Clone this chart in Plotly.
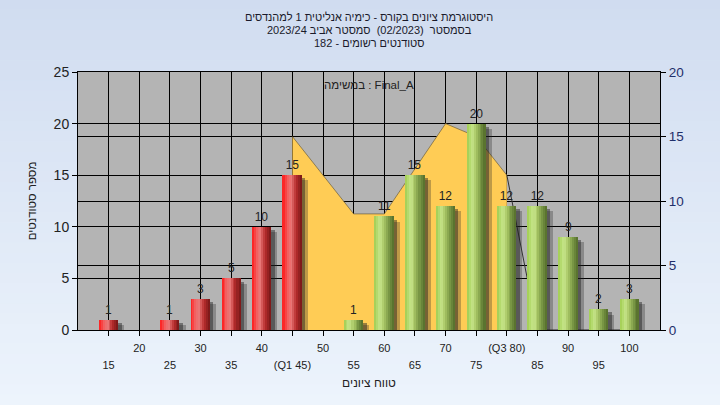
import plotly.graph_objects as go

# ---------------- data ----------------
categories = [15, 20, 25, 30, 35, 40, 45, 50, 55, 60, 65, 70, 75, 80, 85, 90, 95, 100]
tick_labels = ["15", "20", "25", "30", "35", "40", "(Q1 45)", "50", "55", "60",
               "65", "70", "75", "(Q3 80)", "85", "90", "95", "100"]
counts = [1, 0, 1, 3, 5, 10, 15, 0, 1, 11, 15, 12, 20, 12, 12, 9, 2, 3]

area_x = [45, 50, 55, 60, 65, 70, 75, 80]
area_y = [15, 12, 9, 9, 12.5, 16, 15, 12]
tail_x = [80, 85, 90, 95, 100]
tail_y = [12, 0, 0, 0, 0]

title_lines = [
    "היסטוגרמת ציונים בקורס - כימיה אנליטית 1 למהנדסים",
    "בסמסטר  (02/2023)  סמסטר אביב 2023/24",
    "סטודנטים רשומים - 182",
]
task_label = "במשימה : Final_A"
x_title = "טווח ציונים"
y_title = "מספר סטודנטים"

# ---------------- style helpers ----------------
FONT = "Liberation Sans, Arial, sans-serif"
BAR_W = 3.1
N_STRIPS = 10

red_stops = [(0.0, (255, 25, 25)), (0.28, (240, 105, 105)), (0.45, (232, 118, 118)),
             (0.7, (185, 45, 45)), (1.0, (115, 22, 22))]
green_stops = [(0.0, (160, 205, 80)), (0.3, (200, 230, 140)), (0.5, (168, 198, 100)),
               (0.75, (120, 150, 68)), (1.0, (82, 108, 42))]


def interp(stops, t):
    for (p0, c0), (p1, c1) in zip(stops[:-1], stops[1:]):
        if p0 <= t <= p1:
            f = (t - p0) / (p1 - p0) if p1 > p0 else 0
            return "rgb(%d,%d,%d)" % tuple(round(a + (b - a) * f) for a, b in zip(c0, c1))
    return "rgb(%d,%d,%d)" % stops[-1][1]


is_red = [c <= 45 for c in categories]

fig = go.Figure()

# area (right axis, primary y)
fig.add_trace(go.Scatter(
    x=area_x, y=area_y, mode="lines", fill="tozeroy",
    fillcolor="#FFCC55", line=dict(color="rgba(110,95,60,0.7)", width=1),
    yaxis="y", hoverinfo="skip", showlegend=False))
fig.add_trace(go.Scatter(
    x=tail_x, y=tail_y, mode="lines",
    line=dict(color="#333333", width=1), yaxis="y",
    hoverinfo="skip", showlegend=False))

# bar shadows
fig.add_trace(go.Bar(
    x=categories, y=counts, yaxis="y2", width=BAR_W, offset=-BAR_W / 2 + 1.0,
    base=-0.5, marker=dict(color="rgba(40,40,40,0.3)", line=dict(width=0)),
    hoverinfo="skip", showlegend=False))
fig.add_trace(go.Bar(
    x=categories, y=counts, yaxis="y2", width=BAR_W, offset=-BAR_W / 2 + 0.55,
    base=-0.3, marker=dict(color="rgba(30,30,30,0.45)", line=dict(width=0)),
    hoverinfo="skip", showlegend=False))

# gradient cylinder bars built from strips
sw = BAR_W / N_STRIPS
for i in range(N_STRIPS):
    t = (i + 0.5) / N_STRIPS
    cols = [interp(red_stops, t) if r else interp(green_stops, t) for r in is_red]
    fig.add_trace(go.Bar(
        x=categories, y=counts, yaxis="y2", width=sw * 1.05,
        offset=-BAR_W / 2 + i * sw,
        marker=dict(color=cols, line=dict(width=0)),
        hoverinfo="skip", showlegend=False))

# value labels
fig.add_trace(go.Bar(
    x=categories, y=counts, yaxis="y2", width=BAR_W,
    marker=dict(color="rgba(0,0,0,0)", line=dict(width=0)),
    text=[str(v) if v else "" for v in counts], textposition="outside",
    textfont=dict(size=12, color="#222222", family=FONT),
    cliponaxis=False, showlegend=False, name="counts"))

# invisible carrier for the second row of x tick labels
fig.add_trace(go.Scatter(x=categories, y=counts, xaxis="x2", yaxis="y2", mode="none",
                         hoverinfo="skip", showlegend=False))

# ---------------- background gradient ----------------
shapes = []
L, R, T, B = 78, 660, 72, 330
W, H = 720, 405
pw, ph = R - L, B - T
n_bands = 40
top_c, bot_c = (208, 220, 240), (237, 244, 252)
for k in range(n_bands):
    y0p = k * H / n_bands
    y1p = (k + 1) * H / n_bands
    f = (k + 0.5) / n_bands
    c = tuple(round(a + (b - a) * f) for a, b in zip(top_c, bot_c))
    shapes.append(dict(
        type="rect", xref="paper", yref="paper", layer="below",
        x0=-L / pw - 0.01, x1=(W - L) / pw + 0.01,
        y0=(B - y1p) / ph, y1=(B - y0p) / ph + 0.002,
        fillcolor="rgb(%d,%d,%d)" % c, line=dict(width=0)))
shapes.append(dict(type="rect", xref="paper", yref="paper", layer="below",
                   x0=0, x1=1, y0=0, y1=1, fillcolor="#B4B4B4", line=dict(width=0)))

lower_vals = [c for i, c in enumerate(categories) if i % 2 == 0]
lower_text = [t for i, t in enumerate(tick_labels) if i % 2 == 0]

annotations = [dict(text=task_label, xref="paper", yref="paper", x=0.5, y=(B - 85) / ph,
                    xanchor="center", yanchor="middle", showarrow=False,
                    font=dict(size=11.5, color="#222222"))]
for line, py in zip(title_lines, [17, 30, 43]):
    annotations.append(dict(text=line, xref="paper", yref="paper", x=(369 - L) / pw,
                            y=(B - py) / ph, xanchor="center", yanchor="middle",
                            showarrow=False, font=dict(size=11, color="#1a1a2a")))

fig.update_layout(
    width=W, height=H,
    margin=dict(l=L, r=W - R, t=T, b=H - B, autoexpand=False),
    paper_bgcolor="#E2EBF8", plot_bgcolor="#B4B4B4",
    barmode="overlay", bargap=0,
    font=dict(family=FONT, color="#222222"),
    shapes=shapes,
    xaxis=dict(range=[10, 105], tickmode="array", tickvals=categories,
               ticktext=[t if i % 2 == 1 else "" for i, t in enumerate(tick_labels)],
               showgrid=True, gridcolor="black", gridwidth=1,
               showline=True, linecolor="black", linewidth=1, mirror=True,
               ticks="outside", ticklen=5, tickcolor="black", ticklabelstandoff=3,
               tickfont=dict(size=11, color="#222222"), zeroline=False),
    xaxis2=dict(range=[10, 105], overlaying="x", anchor="y", side="bottom",
                tickmode="array", tickvals=lower_vals, ticktext=lower_text,
                showgrid=False, showline=False, zeroline=False,
                ticks="outside", ticklen=5, tickcolor="rgba(0,0,0,0)",
                ticklabelstandoff=20, tickfont=dict(size=11, color="#222222"),
                title=dict(text=x_title, font=dict(size=12, color="#222222"), standoff=8)),
    yaxis=dict(range=[0, 20], dtick=5, side="right",
               showgrid=True, gridcolor="black", gridwidth=1,
               showline=True, linecolor="black", linewidth=1,
               ticks="outside", ticklen=5, tickcolor="black",
               tickfont=dict(size=13.5, color="#1f2f6a"), zeroline=False),
    yaxis2=dict(range=[0, 25], dtick=5, side="left", overlaying="y",
                showgrid=True, gridcolor="black", gridwidth=1,
                showline=True, linecolor="black", linewidth=1,
                ticks="outside", ticklen=5, tickcolor="black",
                tickfont=dict(size=14, color="#222222"), zeroline=False,
                title=dict(text=y_title, font=dict(size=11.5, color="#222222"), standoff=14)),
    annotations=annotations,
)

fig.write_html("out.html", config={"displayModeBar": False},
               post_script="document.body.style.margin='0px';document.body.style.overflow='hidden';")
